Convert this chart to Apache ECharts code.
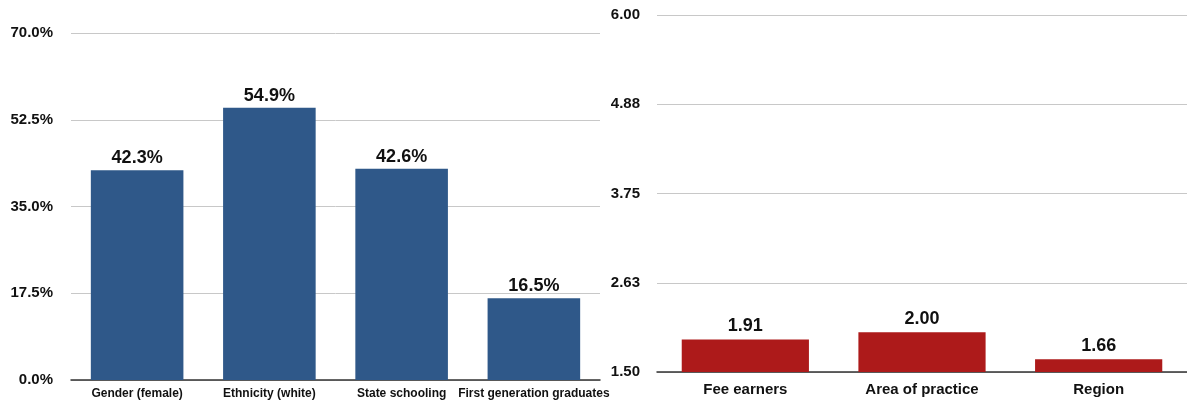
<!DOCTYPE html>
<html>
<head>
<meta charset="utf-8">
<script src="https://cdn.jsdelivr.net/npm/echarts@6/dist/echarts.min.js"></script>
<style>
  html, body { margin: 0; padding: 0; background: #fff; }
  #chart { width: 1187px; height: 402px; }
</style>
</head>
<body>
<div id="chart"></div>
<script>
// left panel: share of each group (%)
var leftCategories = ['Gender (female)', 'Ethnicity (white)', 'State schooling', 'First generation graduates'];
var leftValues = [42.3, 54.9, 42.6, 16.5];

// right panel
var rightCategories = ['Fee earners', 'Area of practice', 'Region'];
var rightValues = [1.91, 2.00, 1.66];

var fontFam = '"Liberation Sans", Arial, Helvetica, sans-serif';

var myChart = echarts.init(document.getElementById('chart'));
myChart.setOption({
  animation: false,
  textStyle: { fontFamily: fontFam },
  grid: [
    { left: 71, right: 587, top: 33, bottom: 22 },
    { left: 657, right: 0, top: 15, bottom: 30 }
  ],
  xAxis: [
    {
      gridIndex: 0,
      type: 'category',
      data: leftCategories,
      axisLine: { lineStyle: { color: '#333', width: 1.5 } },
      axisTick: { show: false },
      axisLabel: {
        interval: 0, hideOverlap: false, margin: 8,
        color: '#111', fontWeight: 'bold', fontSize: 12, fontFamily: fontFam
      }
    },
    {
      gridIndex: 1,
      type: 'category',
      data: rightCategories,
      axisLine: { lineStyle: { color: '#333', width: 1.5 } },
      axisTick: { show: false },
      axisLabel: {
        interval: 0, margin: 10,
        color: '#111', fontWeight: 'bold', fontSize: 15, fontFamily: fontFam
      }
    }
  ],
  yAxis: [
    {
      gridIndex: 0,
      type: 'value',
      min: 0, max: 70, interval: 17.5,
      axisLine: { show: false },
      axisTick: { show: false },
      axisLabel: {
        margin: 18, color: '#111', fontWeight: 'bold', fontSize: 15, fontFamily: fontFam,
        padding: [4, 0, 0, 0],
        formatter: function (v) { return v.toFixed(1) + '%'; }
      },
      splitLine: { lineStyle: { color: '#c8c8c8' } }
    },
    {
      gridIndex: 1,
      type: 'value',
      min: 1.5, max: 6, interval: 1.125,
      axisLine: { show: false },
      axisTick: { show: false },
      axisLabel: {
        margin: 17, color: '#111', fontWeight: 'bold', fontSize: 15, fontFamily: fontFam,
        padding: [4, 0, 0, 0],
        formatter: function (v) { return v.toFixed(2); }
      },
      splitLine: { lineStyle: { color: '#c8c8c8' } }
    }
  ],
  series: [
    {
      type: 'bar',
      xAxisIndex: 0, yAxisIndex: 0,
      data: leftValues,
      barWidth: '70%',
      itemStyle: { color: '#2f5889' },
      label: {
        show: true, position: 'top', distance: 3,
        color: '#111', fontWeight: 'bold', fontSize: 18, fontFamily: fontFam,
        formatter: function (p) { return p.value.toFixed(1) + '%'; }
      }
    },
    {
      type: 'bar',
      xAxisIndex: 1, yAxisIndex: 1,
      data: rightValues,
      barWidth: '72%',
      itemStyle: { color: '#ad1a1a' },
      label: {
        show: true, position: 'top', distance: 4,
        color: '#111', fontWeight: 'bold', fontSize: 18, fontFamily: fontFam,
        formatter: function (p) { return p.value.toFixed(2); }
      }
    }
  ]
});
</script>
</body>
</html>
